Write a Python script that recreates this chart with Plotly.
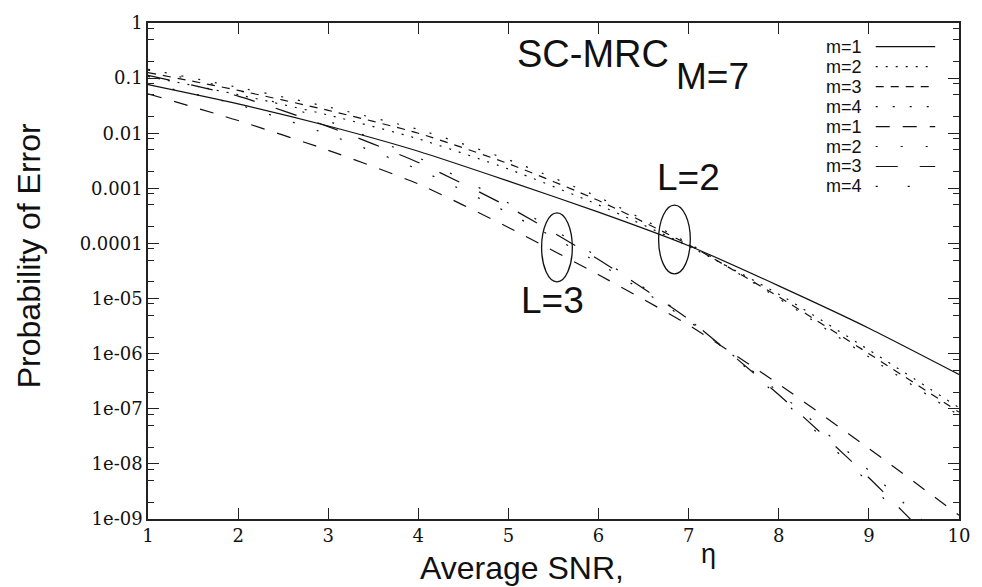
import plotly.graph_objects as go

# ---------------- data ----------------
snr = [1, 2, 3, 4, 5, 6, 7, 8, 9, 10]

# L = 2 branches
pe_L2_m1 = [7.6e-2, 3.4e-2, 1.35e-2, 4.7e-3, 1.35e-3, 3.7e-4, 9.1e-5, 1.7e-5, 2.9e-6, 4.2e-7]
pe_L2_m2 = [1.07e-1, 5.0e-2, 2.14e-2, 7.9e-3, 2.24e-3, 5.0e-4, 8.9e-5, 1.2e-5, 1.17e-6, 1.05e-7]
pe_L2_m3 = [1.26e-1, 6.0e-2, 2.6e-2, 1.0e-2, 2.8e-3, 6.0e-4, 9.5e-5, 1.07e-5, 1.0e-6, 8.7e-8]
pe_L2_m4 = [1.45e-1, 6.8e-2, 3.0e-2, 1.17e-2, 3.3e-3, 6.9e-4, 1.0e-4, 1.0e-5, 8.7e-7, 7.6e-8]

# L = 3 branches
pe_L3_m1 = [5.2e-2, 1.7e-2, 4.9e-3, 1.2e-3, 1.95e-4, 2.7e-5, 3.3e-6, 2.8e-7, 1.9e-8, 1.17e-9]
pe_L3_m2 = [7.9e-2, 3.3e-2, 9.5e-3, 2.2e-3, 3.6e-4, 4.4e-5, 3.9e-6, 2.0e-7, 7.6e-9, 2.2e-10]
pe_L3_m3 = [1.12e-1, 4.7e-2, 1.32e-2, 2.95e-3, 4.6e-4, 5.1e-5, 4.2e-6, 1.8e-7, 5.6e-9, 1.26e-10]
pe_L3_m4 = [1.4e-1, 6.0e-2, 1.66e-2, 3.6e-3, 5.4e-4, 5.6e-5, 4.2e-6, 1.66e-7, 4.5e-9, 7.9e-11]

legend_labels = ["m=1", "m=2", "m=3", "m=4", "m=1", "m=2", "m=3", "m=4"]
y_tick_vals = [1, 1e-1, 1e-2, 1e-3, 1e-4, 1e-5, 1e-6, 1e-7, 1e-8, 1e-9]
y_tick_text = ["1", "0.1", "0.01", "0.001", "0.0001", "1e-05", "1e-06", "1e-07", "1e-08", "1e-09"]
x_tick_vals = [1, 2, 3, 4, 5, 6, 7, 8, 9, 10]

# ---------------- styling ----------------
series = [pe_L2_m1, pe_L2_m2, pe_L2_m3, pe_L2_m4, pe_L3_m1, pe_L3_m2, pe_L3_m3, pe_L3_m4]
dashes = ["solid", "2px,8px", "8px,7px", "2px,15px",
          "14px,13px", "2px,23px", "22px,22px", "2px,30px"]
LINE_COLOR = "#111111"
SANS = "Liberation Sans, Arial, sans-serif"
SERIF = "DejaVu Serif, serif"

fig = go.Figure()
for name, ys, d in zip(legend_labels, series, dashes):
    fig.add_trace(go.Scatter(
        x=snr, y=ys, mode="lines", name=name, showlegend=False,
        line=dict(color=LINE_COLOR, width=1.2, dash=d, shape="spline", smoothing=0.6),
    ))

# geometry helpers (paper coords from plot-area pixels)
L, R, T, B = 148, 966, 15, 519
W, H = R - L, B - T
def px(xp):
    return (xp - L) / W
def py(yp):
    return (B - yp) / H

annotations = []
shapes = []

# manual legend (text left of sample)
row_y = [39, 59.3, 79.6, 99.9, 120.2, 140.5, 160.8, 181.1]
for lab, d, yy in zip(legend_labels, dashes, row_y):
    annotations.append(dict(x=px(869), y=py(yy), xref="paper", yref="paper",
                            text=lab, showarrow=False, xanchor="right", yanchor="middle",
                            borderpad=0,
                            font=dict(family=SANS, size=18, color="#111")))
    shapes.append(dict(type="line", xref="paper", yref="paper",
                       x0=px(882), x1=px(942), y0=py(yy), y1=py(yy),
                       line=dict(color=LINE_COLOR, width=1.2, dash=d)))

# text labels
annotations += [
    dict(x=px(597), y=py(47), text="SC-MRC", font=dict(family=SANS, size=38, color="#111")),
    dict(x=px(717), y=py(69), text="M=7", font=dict(family=SANS, size=37, color="#111")),
    dict(x=px(693), y=py(172), text="L=2", font=dict(family=SANS, size=37, color="#111")),
    dict(x=px(556), y=py(297), text="L=3", font=dict(family=SANS, size=37, color="#111")),
    dict(x=px(525), y=py(569), text="Average SNR,", font=dict(family=SANS, size=32, color="#111")),
    dict(x=px(713), y=py(555), text="η", font=dict(family=SANS, size=27, color="#111")),
    dict(x=px(28), y=py(252), text="Probability of Error", textangle=-90,
         font=dict(family=SANS, size=32, color="#111")),
]
for a in annotations[-7:]:
    a.update(xref="paper", yref="paper", showarrow=False, xanchor="center", yanchor="middle")

# ellipses grouping curves
shapes.append(dict(type="circle", xref="paper", yref="paper",
                   x0=px(663), x1=px(695), y0=py(270), y1=py(200),
                   line=dict(color=LINE_COLOR, width=1.3)))
shapes.append(dict(type="circle", xref="paper", yref="paper",
                   x0=px(545), x1=px(576), y0=py(278), y1=py(208),
                   line=dict(color=LINE_COLOR, width=1.3)))

minor_vals = []
for k in range(0, 9):
    base = 10.0 ** (-k)
    minor_vals += [0.8 * base, 0.5 * base, 0.2 * base]

fig.update_layout(
    width=982, height=587,
    margin=dict(l=L, r=982 - R, t=T, b=587 - B),
    paper_bgcolor="white", plot_bgcolor="white",
    annotations=annotations, shapes=shapes,
    showlegend=False,
)
fig.update_xaxes(
    range=[1, 10], tickvals=x_tick_vals, ticktext=[str(v) for v in x_tick_vals],
    ticks="inside", ticklen=11, tickwidth=1, tickcolor="#222",
    showline=True, linecolor="#222", linewidth=1.5, mirror="allticks",
    showgrid=False, zeroline=False,
    tickfont=dict(family=SERIF, size=18, color="#111"),
)
fig.update_yaxes(
    type="log", range=[-9, 0], tickvals=y_tick_vals, ticktext=y_tick_text,
    ticks="inside", ticklen=11, tickwidth=1, tickcolor="#222",
    showline=True, linecolor="#222", linewidth=1.5, mirror="allticks",
    showgrid=False, zeroline=False,
    tickfont=dict(family=SERIF, size=18, color="#111"),
    minor=dict(tickvals=minor_vals, ticks="inside", ticklen=6, tickcolor="#222", showgrid=False),
)

fig.write_html("out.html")
